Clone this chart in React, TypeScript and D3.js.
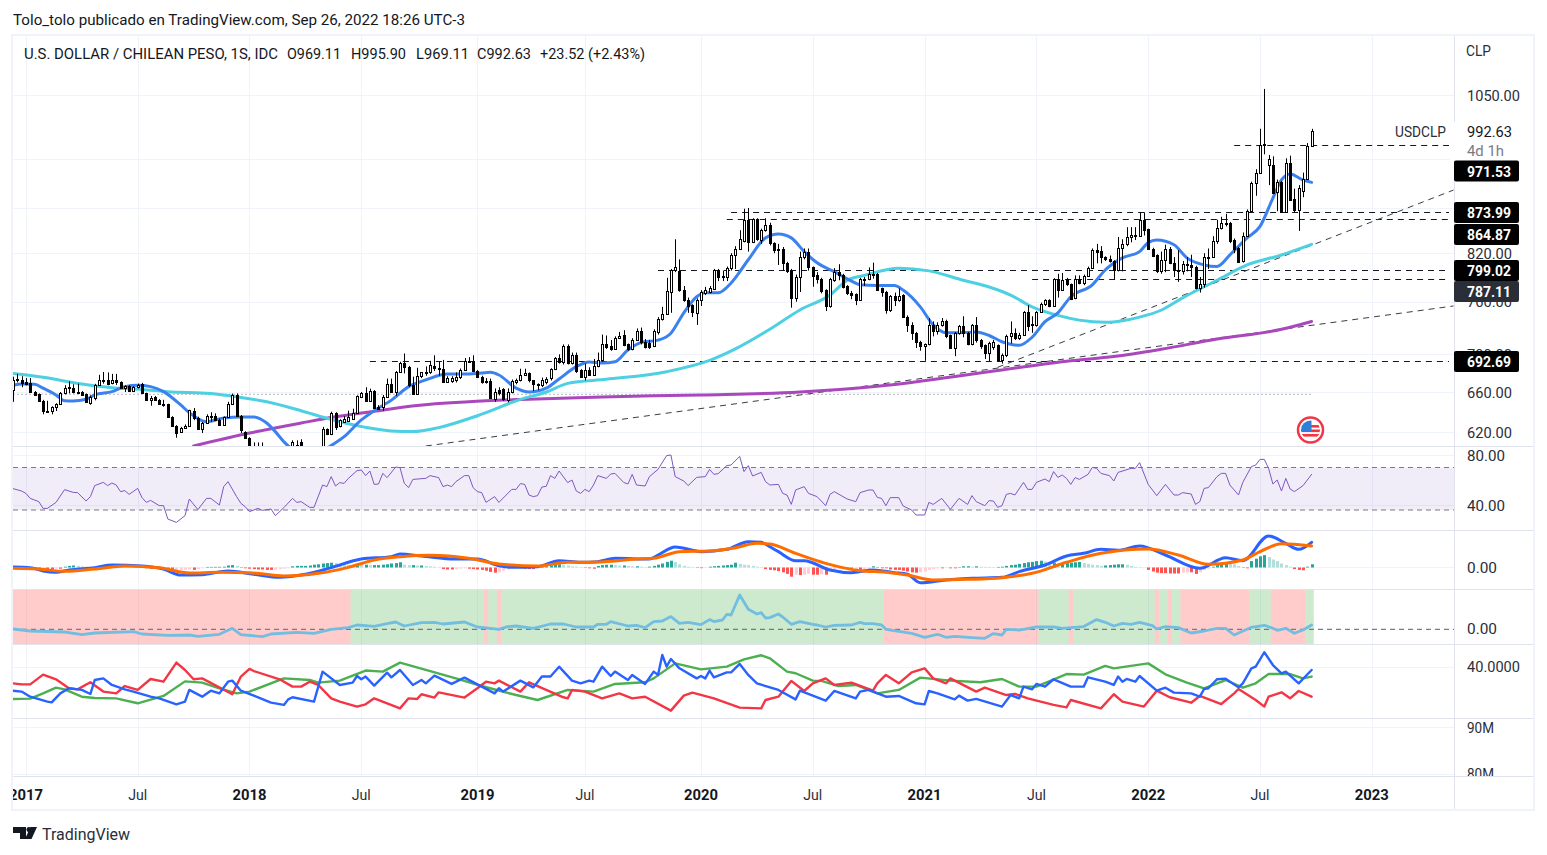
import { useEffect, useRef } from 'react'
import * as d3 from 'd3'

// weekly candles, one entry per week, week 0 is the last week of 2016
const opens = [
  662,674,672,670.4,669.5,660,657.6,651,641,640.7,645,648,658.6,664.7,663.7,660.2,660,657.6,648.5,654,
  667,672.5,672.8,669,672,670.4,664.3,666.4,661,665,668,658.6,652,654.6,652,648,647.5,635,626,620,
  624,626,640.7,634,623,629,636,636,631.6,626.6,634.6,648,657,636,620,614.5,606,603,602,600,
  598,597,596,597,598,600,608,610,603,601,600,598,600,623,618,638.5,626,630,631,633,
  639,655,658.6,651,661,645,645,655,668.5,660,681.5,690.5,686.5,667,657.5,676.5,680,680.5,687.5,685.5,
  684.5,670.5,671,672,675.5,683,692,692.5,682,675.5,671,671,652.5,662.5,663,652,660,670,672,678,
  679.5,672,668,667,670,675,684,696,692,709,691,699,682.6,675.5,682.6,678.3,687,693.4,712,709,
  706,718.6,721,711,705.5,716,725.6,713.6,713,709,725,740,746,772,798.4,797.5,774.6,762.5,755.7,747,
  762.5,771,772,775.5,798.4,790.8,790,801.3,817.4,826,836,863.6,834.4,864.5,837,850,857,832.6,825.3,826,
  807,797.6,764.6,790,815.4,821,802,792,787,773.8,755,786,796.4,792,778.6,771,769,762.5,786,788,
  793.4,793.4,776,771.7,750,766.5,761.7,767.7,742,733,724,713.6,709,711,733.4,726,733.4,738,721,707,
  723.6,731.8,723.4,712,732.4,716,710,701.5,708,710,693.4,698.8,720,724,718.6,722,748,733,733,748,
  757,761.7,755,787,774.6,787,781.5,764.6,787,782.5,791.6,801.7,824,823,814.6,812,810,798.4,827,831.4,
  840.4,843.4,842,863.6,851,826,817.6,797,811,826,808,798.5,797.5,806,805,802,776,782,815,815,
  835.8,852.4,860,860,837,827,809.6,842,876,915.7,930,971.7,941.7,941.6,902.7,917,875,943.7,892,877,
  903,921.5,969.11,
]
const closes = [
  672,672,669,668,660,657,651,640.7,640.5,645,648,658.6,664.3,663.7,660,660,657,650,654.6,667.7,
  672.5,672,668.7,672.5,670.4,664.3,666.4,661,665.4,667.7,658.6,652,654,652,647.5,647,635,626,619,624,
  626,641.4,633.3,623,629,636,635.6,631.6,626.6,634.6,648,657,636,621.5,614.5,606,603,602,600,598,
  597,596,597,598,600,610,602,603,601,600,598,600,623,618,638.5,625,632,633,634.5,639,
  655.5,658.6,651,661,644,643,655,668,660,681.5,690.5,686.5,667,657.5,676.5,680.5,680.5,688,685.5,684.5,
  670.5,674.5,674.5,675.5,683,692.7,693,682,675.5,670.5,670.5,654,660,659,652.5,660,671,672,678,680,
  672,668,667,673,674,684,695.7,692,709,691,699,682,675.5,682.6,678.3,687,693.4,711,708,706,
  718.6,720.3,710,705.5,716,725.6,713.6,708,708.5,725.6,740,746,773,798.4,802.6,774.6,761.7,754.5,748,762.5,
  771.7,774.6,776.7,798.4,790,790,801.3,817.4,826,838,863.6,835,864.5,838,850,857,832.6,824,825,807,
  797.6,765,790,815.4,821,802,791,787,773,754.5,787,796.4,792,778,770.6,767.7,761.7,787,788,793.4,
  793.7,774.6,771.7,750,766.5,762.5,767.3,742,732.5,724,713.6,709,711,733,726,733.4,738,720,707,723.6,
  731.8,723.4,712,732.4,715.5,709,701.5,712.5,713.6,693.4,699,720,724,718.6,722,748,732,733.5,748,757,
  761.7,755,787,774.6,786,781,763.6,787,782.5,791.6,801.7,824,822,814.6,812,810,798.4,827,831.4,840.4,
  843.4,842,863.6,850,826,817,797.6,811,826,808,798.5,797,806,805.5,802,776,782,814.7,814.7,835.8,
  852.4,859,858.8,836,825,809,842,876.5,915.7,930,971.8,972,950,901,917,875,943.7,891,877,908,
  921.5,969.5,992.63,
]
const highs = [
  676,679,676.5,674.5,674.5,661,658.5,652,651,645.5,648.5,660,667,671,668,668.7,661,658.5,656.5,668.5,
  678,681,680.5,679,679,671,667,667,666,668.7,669.5,659.3,656,656,652.7,652,648,635.5,626.7,625,
  627.4,642,643.7,635,629.7,637.4,639.4,638.4,633.3,635.3,650,658.4,658.6,636.7,620.7,615,610,610,610,604,
  602,602,601,604,605,612,612,613,606,604,604,604,625,623.5,640,639.5,632.5,635.5,641,643,
  656.5,660,665,663.5,662,646.6,657,674,674,682,692,701,687.5,676,685.5,681,687,693,699,692,
  694,676.5,676.5,680.5,684.7,696,697,699,683,677,674.5,674,663.7,665,664,663.7,673,674,684.5,684.5,
  680.5,672.5,669,675,675.5,685,697,700,711,711,702,702,684,690,686,695,702,722,721,716,
  720,725,727,712,718,729,730,717,716,728,742,754,789,800,838,812,779,765,757,764,
  774,778,779,800,800,798,803,820,829,850,879,880,866,866,852,866,860,834,832,828,
  809,800,793,822,826,826,803,796,789,775,789,801,806,794,780,773,770,789,790,802,
  808,795,777,773,768,771,776,769,744,736,725,715,712,741,737,736,741,739,722,725,
  733,743,725,734,742,717,711,714,716,711,701,722,737,729,724,749,756,743,749,759,
  763,763,788.5,794,795,789,782,792,792,793,803,826,832,829,816,817,811,841,838,854,
  854,854,874,874,852,827,818.5,822,831,828,815,824,810,815,818,804,790,820,826,842,
  864,868,872,861,839,828,847,878,917,935,996,1060,956,954,920,918,951,955,907,912,
  930,974,995.9,
]
const lows = [
  650,670,665,667,659.6,656,650,637.4,639,637.4,640.7,647.5,657.6,658.6,658.6,659.6,656,649.5,647,651.5,
  666.4,668.7,667,668,667.4,663.7,660,660.4,660.6,663.7,658,651.4,646,651.4,647,645,634.6,625,614.5,619,
  623.4,625.4,631.6,622.4,619,628,630,630.6,626,626,634,647.5,635.4,619,613.8,604,600,599,597,595,
  594,593,592,594,595,598,600,600,598,597,596,595,598,617,617,622,624.5,629,630,632,
  638,654.5,650,650,643.5,642.5,641,654.5,659,656,680.5,679.5,665,657,657,674.5,677,679,682,677,
  669.5,669.5,669.5,670,673.5,682,691,681.5,674.5,668.7,668.7,653.4,650,656.5,651,649.5,658.6,668,671,677,
  670,661,662,665,668,672,683,690,689,689,689,680,675,672,677,677,686,692,706,704,
  705,717,709,704,704.5,715,711,706.5,706,708,722,738,745,747,796,772,760,747,742,733,
  755,768,770,774,785,785,785,798,800,824,834,822,833,836,832,848,830,820,805,798,
  795,753,760,771.7,812,798,778,782,770,749,753,784,786,776,768,763,756,761,779,786,
  788,773,766,746,748,755,760,741,725,716,707,704,693,710,720,722,731,718,706,698,
  722,719,710,710,713,706,695,692,705,692,690,697,712,716,716,721,726,724,731,747,
  755,753.5,754,765,773,779,762,763,781,780,790,800,807,807,810,808,787,797,797,829,
  834,837,841,843,825,815,795,794,796,806,790,784,793,797,790,775,771,777,800,814,
  832,851,855,833,820,808,808,841,874,897,928,957,912,900,875.6,874,874,890,874,849,
  895,920,969.11,
]

// moving averages, read at turning points
const blueWeeks = [0,2,5,7,10,12,14,17,19,23,26,29,32,35,39,41,45,49,53,56,59,61,63,64,67,70,74,77,81,84,88,92,96,101,105,109,111,113,117,120,124,127,131,134,137,140,143,146,150,153,156,159,161,164,167,171,175,178,181,184,187,191,195,197,201,205,207,211,214,217,220,224,227,230,234,237,240,243,246,251,254,258,262,264,266,270,273,277,280,283,287,290,293,295,297,300,302]
const blueValues = [667,668.3,668,664,657,651,650.8,652.6,657,660.4,665.6,667,665.6,660.4,646.8,639,630,633.8,634.8,634.8,628.8,620.4,610.7,606.6,601,598,607,615.5,631.8,641,651.7,665.6,672.6,678.8,678.8,680,680.6,677.8,664,660,664,673.6,686.7,691.8,690.7,692,704.9,713,715.8,723.6,747,766,770.8,770.8,782.7,811.6,839.8,845,839.8,822,807.7,796.6,785,780.4,779.5,779.5,774,754,733,724,724,725,721,714,710,719,736.7,747,766,780.4,798.7,814,822,833.6,837,830.8,814,805,803,817.7,839.8,855,893.8,919.4,928,919.4,916]
const cyanWeeks = [0,7,16,23,30,36,46,53,59,67,73,82,88,93,99,108,118,124,129,138,152,162,168,176,183,190,194,198,206,213,221,227,232,237,243,248,254,258,262,267,272,280,287,295,302]
const cyanValues = [679.3,675.4,668.3,664.4,662.6,660.4,658.6,654.4,650,641,633.5,624.5,621,620.4,624.3,636,652.4,660,669,673.3,681.3,693.4,706,728,750.3,768,786,792,801,797.6,786,777.7,768,754,744,738.5,736,737.8,742,750,764.6,786,805,817.7,831.4]
const purpleWeeks = [42,55,67,75,85,94,106,118,137,160,183,201,229,246,256,267,280,295,302]
const purpleValues = [606.6,619,628.8,635,641,646.3,650,652.4,655,657,660,666,682.6,693,697.6,705.6,717,728,737]

// drawn levels: price, first week, label centre on the axis
const levelPrices = [971.53, 873.99, 864.87, 799.02, 787.11, 692.69]
const levelStarts = [284, 167, 166, 150, 237, 83]
const levelLabelY = [171, 212.5, 234.5, 270.5, 291.5, 361.5]
const levelLabelFill = ['#000', '#000', '#000', '#000', '#2a2e39', '#000']
const trendWeeks = [[96, 335], [229, 335]]
const trendPrices = [[606.6, 755], [686, 905]]
const priceTicks = [1050, 950, 880, 820, 760, 700, 660, 620]
const priceTickLabels = [1050, 820, 760, 700, 660, 620]

const tickWeeks = [3, 29, 55, 81, 108, 133, 160, 186, 212, 238, 264, 290, 316]
const tickLabels = ['2017', 'Jul', '2018', 'Jul', '2019', 'Jul', '2020', 'Jul', '2021', 'Jul', '2022', 'Jul', '2023']

const rsiWeeks = [0,2,3,4,6,7,8,10,12,14,15,17,18,19,21,22,23,24,25,26,27,29,30,31,32,34,35,36,38,40,41,43,45,46,48,49,50,52,53,54,55,57,58,60,61,63,65,66,67,69,70,72,73,74,75,76,77,78,80,81,82,83,84,85,86,87,89,90,91,92,93,96,97,99,100,101,102,103,105,106,107,108,109,110,112,113,116,117,118,119,120,121,122,123,124,125,126,127,129,130,131,132,133,134,135,136,138,139,140,142,143,144,145,147,148,150,152,153,154,156,157,159,161,162,163,164,166,167,169,170,171,172,174,175,176,178,179,180,181,182,184,185,187,189,190,191,194,196,197,199,200,201,202,203,204,206,207,209,210,212,213,214,216,218,220,222,223,224,226,227,228,229,230,231,232,233,235,236,237,238,240,241,242,243,244,245,246,247,248,250,251,252,253,255,256,257,260,261,262,264,266,268,270,271,272,274,275,276,277,278,280,281,282,283,285,286,288,289,290,291,292,293,294,295,296,297,298,300,301,302]
const rsiValues = [53.1,51.2,49.3,45.3,42.7,37.3,37.3,42.1,52.3,50.1,49.9,43.2,46.7,55.5,58.1,55.5,57.6,56,50.7,51.5,48.5,53.3,45.9,42.1,43.7,39.5,39.5,28.8,26.1,31.5,44.8,36.3,45.3,45.3,40,54.7,58.7,46.7,41.3,38.7,34.7,37.3,35.7,36.8,31.5,37.9,45.3,42.1,42.7,38.1,38.1,56,54.7,62.7,55.2,57.9,57.3,61.3,67.5,68,63.5,67.2,56.5,56.8,65.3,61.9,70.4,69.9,57.3,53.9,60.5,61.3,63.5,61.9,54.7,56,54.7,58.7,63.5,63.5,53.9,50.7,49.9,42.1,46.7,42.1,52.5,52.5,57.1,56.5,48,46.7,47.5,54.4,54.9,63.5,61.3,67.2,57.9,60,51.2,49.3,52.5,50.7,56,63.5,61.3,64.8,65.3,58.1,56.8,64.5,56,55.2,62.7,68.5,79.5,80,62.7,59.2,55.5,62.1,62.7,68.5,64.5,65.1,71.5,72,78.9,66.7,71.5,63.2,66.1,58.7,56,56.5,49.3,48,40.5,52,54.7,49.3,46.7,39.5,48.5,50.7,44.8,42.7,49.9,52,52,46.1,45.3,39.5,45.9,45.9,39.2,36,32,32,42.1,40.5,45.3,36.5,45.3,40.5,47.5,42.7,39.5,43.5,43.2,38.1,39.5,48.5,49.3,48,58.1,52.5,52.5,58.1,60.8,58.7,66.7,62.1,64,61.3,56.5,61.9,60.5,64.5,70.1,69.3,65.3,63.5,59.2,66.1,69.3,69.3,73.9,56.5,47.5,56.5,48,48,49.9,48.8,40.5,42.7,53.3,53.9,62.7,65.3,65.3,56,48,58.1,70.7,72,76.5,76.5,69.3,56.8,60,51.2,61.3,52.8,50.7,55.5,60,64.5]
const rsiBand = [70, 36]

const macdWeeks = [0,4,7,10,13,19,23,30,35,39,44,50,56,62,68,74,81,88,90,95,103,108,113,116,122,127,132,136,140,148,150,154,156,160,166,171,174,176,178,182,184,190,195,200,205,208,211,217,223,230,234,240,245,249,253,257,262,268,276,282,286,292,296,299,302]
const macdValues = [.6,-.2,-4.4,-6,-3.1,-.2,3.1,1.9,-1.9,-9.4,-9,-4.4,-8.5,-12.3,-8.5,-.2,10.6,13.5,16.9,14.4,10.6,10.6,2.3,.2,1,8.5,6.5,7.3,11.5,10.6,15.6,25.6,24,19.8,22.7,32.3,31.5,26,19.8,8.5,8.5,-3.1,-6.5,-3.1,-6.5,-8.5,-19,-15.6,-13.5,-12.3,-5.2,3.1,14.4,17.7,22.7,21.5,26.9,15.6,-1,12.3,8.5,39.4,30.2,22.7,31.5]
const signalWeeks = [0,6,12,19,26,34,41,48,55,63,71,78,84,90,97,106,113,122,129,136,145,149,155,162,168,173,176,182,189,197,203,208,214,222,230,237,245,253,264,271,278,286,290,295,302]
const signalValues = [-1,-1.9,-4.8,-1.9,1.9,-.2,-6.9,-6,-6.5,-10.6,-7.3,.2,9.4,13.5,15.2,11.5,4.4,1.9,6.5,6.9,10.6,11.5,19.8,20.6,24.8,30.2,29.4,17.7,5.2,-4,-6,-9.4,-15.6,-14.8,-12.7,-7.3,6.5,17.7,23.1,15.6,4,9.4,19.8,29.8,26.9]
const histValues = [
  .3,.3,.3,.2,-1.5,-2,-2.5,-2,-2,-2,-1.5,-1.5,1,2,2.5,2,1.5,1,.7,.5,
  2,2.5,3,2.5,2,1.5,1.2,1,.7,.5,-.5,-1,-1.5,-1.5,-2,-3,-3.5,-3.5,-3.2,-3,
  -2.8,-2.5,-3,-2,-1,.7,.7,.8,.8,1,2.5,3,2,-.5,-1,-1.5,-2,-2.5,-2.5,-3,
  -3,-2.5,-2,-1.5,-1,1.5,2,2,2,2.5,3.5,4,5,5.5,6,5.5,5,4,3.5,3,
  4,3.5,3.5,3,3,3,3.5,4,5,5.5,6.5,3.5,3,3,2.5,2.5,2,1.5,1,.5,
  -2,-2.5,-2.5,-2,-1.5,-1,-1.5,-2,-2.5,-3,-4,-5.5,-6.5,-6,-4,-2.5,-1,-.5,.3,-1.5,
  -2,-2,-1,1,1.5,2.5,3.5,4,3,2.5,1.5,1,.5,-.5,-1,-1.5,2,3,3.5,3.5,
  3,2.5,2.5,2,1.5,1.5,1,.5,1,2,3.5,5,7,8.5,7,4,2,1,.5,-.5,
  -.8,-.5,1,1.5,2,2.5,3,3.5,6,4.5,3.5,3,2,1,.5,-2,-3,-3.5,-4.5,-6,
  -8,-11.5,-9,-9.5,-9,-8,-9,-9,-8.5,-9,-5,-2,-1.5,-1,-2,-2.5,-2,-3,-2.5,-1.5,
  1.5,-.5,-1,-1,-2.5,-3,-3,-4,-5,-6,-6.5,-6,-5,-3,-2,-1,-1,-.3,-1,-1,
  .5,1.5,1.5,1,1.5,1,.8,.7,.5,.7,1,2,3,3.5,4.5,5.5,6.5,7,8,8.5,
  7.5,6,6,5,5,5.5,6,6.5,7,5.5,4.5,3.5,3,2,2.5,3,3.5,4,4,3.5,
  2,1,.5,.3,-3,-5,-6.5,-7,-7,-7.5,-7.5,-7.5,-6.5,-6,-6,-8,-6,-3,-1.5,1,
  3,5,6,5.5,4,2,-.5,-1,8,11,14,15.5,13,10,8,5,3,1,-2,-3,
  -3.5,1,4,
]

// background regime of the third pane, as week ranges
const bearRanges = [[0,78],[110,110],[113,113],[203,238],[246,246],[266,266],[269,269],[272,287],[293,300]]
const bullRanges = [[79,109],[111,112],[114,202],[239,245],[247,265],[267,268],[270,271],[288,292],[301,302]]
const oscWeeks = [0,4,12,16,19,28,30,36,41,43,48,51,53,58,60,66,70,74,78,80,84,87,89,91,95,98,100,105,108,111,113,115,117,121,125,128,131,135,136,138,139,143,145,147,149,151,153,155,157,160,162,163,165,166,167,169,171,173,174,175,176,178,179,181,183,186,187,189,191,195,197,198,200,202,203,206,209,212,215,217,219,223,226,228,230,231,234,235,238,242,244,246,249,252,254,256,258,260,262,265,266,268,271,274,277,280,282,284,288,291,293,294,296,298,300,302]
const oscValues = [.3,-1.7,-2.7,-5.3,-3.7,-2.3,-4.7,-6,-5.7,-7,-5,1,-5.3,-7.3,-4.7,-3,-4,0,1.7,4.3,3,5.7,7.3,3.3,6.7,7,5.3,7.3,2.3,1,0,2.7,3.3,1,5.3,5.3,2.3,2.3,5,5,7.7,3.3,4,1.7,7.7,8.3,12.7,6,7,4.7,9.7,7.7,9.3,15,14.3,34.3,20,15.3,16.7,11.3,11.7,15.3,12.3,5,7.7,5,4.3,2.3,4,4.3,7,5.7,5.7,4.3,0,-2,-4,-8,-5,-8,-7,-8.3,-9,-4.3,-5.7,0,-.7,0,2.3,2.3,1,1.7,2.7,9.7,7,3.3,6,5,7,3.7,.3,2.7,1.7,-3.7,-1.7,1,1,-5.7,2,4,1,-1,1,-4,-.7,4.3]

const dmiBlueWeeks = [0,2,4,8,9,11,13,16,18,19,21,23,26,28,32,34,38,40,41,44,46,48,50,51,53,56,60,63,64,65,70,72,76,79,80,81,82,84,87,88,90,93,95,96,98,102,105,108,112,113,114,118,121,123,125,127,130,132,134,135,137,139,140,143,144,147,149,150,151,152,153,155,159,160,161,162,163,166,167,169,171,173,178,182,183,189,191,196,197,199,203,206,210,212,213,215,219,220,222,224,230,232,234,235,237,238,240,242,246,249,250,254,256,257,258,259,261,262,266,268,270,274,276,277,278,280,282,285,286,288,289,291,293,295,296,299,302]
const dmiBlue = [24,23.4,20,16.7,16.2,22.2,25.6,24.5,21.8,31.1,32.2,27.8,24.9,23.4,20,18.9,14.9,16.7,24.5,20,24,22.2,30,30.7,24,20.7,16,14.5,18.2,19.6,16.7,36.7,27.8,29.4,33.8,31.6,33.4,27.4,36,32.9,37.8,27.8,31.1,28.9,34,28.5,32.7,28.2,22.2,25.6,23.4,30.7,26.2,33.4,33.4,40,30.7,28.9,30.7,30,40,33.8,36.7,31.1,34.5,28.5,36.7,34.5,47.8,40,45.1,38.9,32.2,33.8,32.2,37.4,32.9,36.2,36.2,41.8,34.5,28.9,24.5,18.2,24,17.4,23.8,18.9,23.4,24.5,20,20.5,15.6,14.9,23.8,22.2,18.2,20.7,17.4,18.5,13.4,21.1,18.9,26.7,24.9,28.5,26.7,31.6,26.7,26.7,32.9,30,27.8,33.4,30,31.8,30,33.8,24,26,22.7,22.2,20,25.1,25.6,31.6,32,26.2,28.9,38.9,40,49.6,41.1,35.6,36.7,28.9,37.8]
const dmiGreenWeeks = [0,4,7,10,12,16,19,24,29,35,40,44,48,52,55,63,69,71,76,82,86,90,96,103,109,117,122,129,135,140,147,149,154,160,166,170,174,176,180,182,186,188,192,196,201,206,211,218,225,230,234,238,245,249,254,256,264,268,273,277,282,286,289,292,297,300,302]
const dmiGreen = [18.5,18.7,22.2,26,24.9,20,19.1,18.9,15.6,20.5,30.2,29.4,25.6,22.2,23.4,32.2,31.1,29.4,30.7,37.4,36.7,42.7,37.8,32.2,27.1,21.1,17.8,24.5,23.4,28.5,29.6,32.2,42.2,38.2,40,44.9,47.6,45.6,36.7,35.6,30.7,30.5,27.1,27.8,22.2,24.5,32.7,30.7,29.6,31.8,26.7,26.7,35.1,34.7,40.5,38.9,42.2,34.9,29.4,25.6,31.1,26,28.9,35.1,35.1,32.2,33.4]
const dmiRedWeeks = [0,2,4,7,10,13,15,18,21,24,26,29,32,35,38,40,42,44,51,53,55,56,62,65,67,69,71,74,76,80,82,84,90,92,94,95,98,99,105,108,110,112,113,118,120,128,129,130,133,137,141,144,147,153,156,158,163,169,174,175,178,179,181,184,186,189,191,195,200,201,203,206,209,212,214,217,218,224,226,231,233,236,242,245,246,253,256,258,263,266,269,274,276,281,284,285,289,291,292,295,297,299,302]
const dmiRed = [28.9,28.2,28.2,34.7,31.6,25.6,24.9,29.6,23.4,22.2,27.1,24.5,31.8,30,42.7,37.8,31.6,32.2,21.6,33.4,38.5,37.1,31.6,26.7,26.7,30,27.8,18.9,16.7,13.4,14.9,18.9,12.2,18.9,18.5,21.6,19.4,22.9,19.4,25.6,30,28.9,30.7,23.4,29.6,19.6,18.9,24.5,23.4,18.9,22.2,18.9,20,10.7,20.7,22.7,18.9,12.7,12.2,17.8,20,23.4,30.5,23.8,28.9,32.2,27.8,29.4,24,28.9,34.5,28.9,36.2,38.9,32.2,28.9,32.2,23.4,26,21.1,21.8,18.9,14.5,12.9,17.8,12.2,21.6,16.7,13.4,24,19.6,16,20.5,15.1,22.2,25.1,17.8,13.4,20,22.9,18.9,23.8,20]

const W = 1547
const H = 855
const LEFT = 13
const AXIS = 1454
const RIGHT = 1533
const paneEdges = [36, 446, 530, 589, 644, 718, 776, 810]

export default function App() {
  const svgRef = useRef<SVGSVGElement>(null)

  useEffect(() => {
    if (!svgRef.current) return
    const svg = d3.select(svgRef.current)
    svg.selectAll('*').remove()
    const font = "'Roboto', 'Liberation Sans', sans-serif"
    const grid = '#f0f3fa'
    const sep = '#e0e3eb'
    const ink = '#2a2e39'
    const size = 15

    const x = d3.scaleLinear().domain([0, 302]).range([LEFT, 1311.6])
    const yPrice = d3.scaleLog().domain([1050, 606.6]).range([95, 446])
    const yRsi = d3.scaleLinear().domain([80, 40]).range([455, 505])
    const yMacd = d3.scaleLinear().domain([46.9, -26.9]).range([530, 589])
    const yOsc = d3.scaleLinear().domain([40.3, -14.7]).range([589, 644])
    const yDmi = d3.scaleLinear().domain([55.1, 5.8]).range([644, 718])
    const yVol = d3.scaleLinear().domain([90, 80]).range([727.3, 773.5])

    const defs = svg.append('defs')
    defs.append('clipPath').attr('id', 'main-clip').append('rect')
      .attr('x', LEFT).attr('y', paneEdges[0]).attr('width', AXIS - LEFT).attr('height', paneEdges[1] - paneEdges[0])
    defs.append('clipPath').attr('id', 'axis-clip').append('rect')
      .attr('x', LEFT).attr('y', 777).attr('width', AXIS - LEFT).attr('height', 33)
    defs.append('clipPath').attr('id', 'vol-clip').append('rect')
      .attr('x', AXIS).attr('y', 718).attr('width', 80).attr('height', 58)
    defs.append('clipPath').attr('id', 'flag-clip').append('circle').attr('cx', 1310.5).attr('cy', 430).attr('r', 9.5)

    const text = (
      parent: d3.Selection<any, unknown, null, undefined>,
      tx: number, ty: number, s: string, fill = ink, weight = 400, len?: number, fs = size
    ) => {
      const t = parent.append('text')
        .attr('x', tx).attr('y', ty + .6).attr('dominant-baseline', 'central')
        .attr('font-family', font).attr('font-size', fs).attr('font-weight', weight)
        .attr('fill', fill).text(s)
      if (len) t.attr('textLength', len).attr('lengthAdjust', 'spacingAndGlyphs')
      return t
    }
    const hLine = (y: number, x1 = LEFT, x2 = AXIS, color = grid) =>
      svg.append('line').attr('x1', x1).attr('x2', x2)
        .attr('y1', Math.round(y) + .5).attr('y2', Math.round(y) + .5)
        .attr('stroke', color)

    // grid
    tickWeeks.forEach(w => {
      const gx = Math.round(x(w)) + .5
      if (gx < LEFT) return
      svg.append('line').attr('x1', gx).attr('x2', gx).attr('y1', 36).attr('y2', 776).attr('stroke', grid)
    })
    priceTicks.forEach(p => hLine(yPrice(p)))
    ;[80, 40].forEach(v => hLine(yRsi(v)))
    hLine(yMacd(0))
    hLine(yDmi(40))
    ;[90, 80].forEach(v => hLine(yVol(v)))

    const main = svg.append('g').attr('clip-path', 'url(#main-clip)')

    // faint dotted level and drawn levels
    main.append('line')
      .attr('x1', LEFT).attr('x2', x(302))
      .attr('y1', yPrice(657.7)).attr('y2', yPrice(657.7))
      .attr('stroke', '#b2b5be').attr('stroke-dasharray', '2 2')

    levelPrices.forEach((p, i) => {
      const ly = Math.round(yPrice(p)) + .5
      main.append('line')
        .attr('x1', x(levelStarts[i])).attr('x2', 1449)
        .attr('y1', ly).attr('y2', ly)
        .attr('stroke', '#131722').attr('stroke-dasharray', '6 5')
    })
    trendWeeks.forEach((w, i) => {
      main.append('line')
        .attr('x1', x(w[0])).attr('x2', x(w[1]))
        .attr('y1', yPrice(trendPrices[i][0])).attr('y2', yPrice(trendPrices[i][1]))
        .attr('stroke', '#3a3d46').attr('stroke-dasharray', '6 5')
    })

    const drawLine = (
      parent: d3.Selection<any, unknown, null, undefined>,
      weeks: number[], values: number[], y: (v: number) => number,
      color: string, width: number, curve: d3.CurveFactory = d3.curveLinear
    ) => {
      const path = d3.line<number>()
        .x((_, i) => x(weeks[i]))
        .y(v => y(v))
        .curve(curve)
      parent.append('path').attr('d', path(values))
        .attr('fill', 'none').attr('stroke', color).attr('stroke-width', width)
        .attr('stroke-linejoin', 'round').attr('stroke-linecap', 'round')
    }

    drawLine(main, purpleWeeks, purpleValues, yPrice, '#ab47bc', 3, d3.curveMonotoneX)
    drawLine(main, cyanWeeks, cyanValues, yPrice, '#4dd0e1', 3, d3.curveMonotoneX)
    drawLine(main, blueWeeks, blueValues, yPrice, '#3b82f0', 3, d3.curveMonotoneX)

    // candles
    opens.forEach((o, i) => {
      const cx = Math.round(x(i))
      const c = closes[i]
      const up = c >= o
      main.append('line')
        .attr('x1', cx + .5).attr('x2', cx + .5)
        .attr('y1', yPrice(highs[i])).attr('y2', yPrice(lows[i]))
        .attr('stroke', '#000')
      const top = Math.round(yPrice(Math.max(o, c)))
      const bottom = Math.round(yPrice(Math.min(o, c)))
      main.append('rect')
        .attr('x', cx - .5).attr('y', top + .5)
        .attr('width', 2).attr('height', Math.max(bottom - top, 1))
        .attr('fill', up ? '#fff' : '#000').attr('stroke', '#000')
    })

    // RSI
    svg.append('rect')
      .attr('x', LEFT).attr('width', AXIS - LEFT)
      .attr('y', yRsi(rsiBand[0])).attr('height', yRsi(rsiBand[1]) - yRsi(rsiBand[0]))
      .attr('fill', 'rgba(126,87,194,0.11)')
    rsiBand.forEach(v => {
      svg.append('line').attr('x1', LEFT).attr('x2', AXIS)
        .attr('y1', yRsi(v)).attr('y2', yRsi(v))
        .attr('stroke', '#787b86').attr('stroke-width', 1.2).attr('stroke-dasharray', '5 4')
    })
    drawLine(svg as any, rsiWeeks, rsiValues, yRsi, '#7e57c2', 1)

    // MACD
    histValues.forEach((v, i) => {
      const prev = i ? histValues[i - 1] : 0
      const color = v >= 0
        ? (v >= prev ? '#26a69a' : '#b2dfdb')
        : (v <= prev ? '#ff5252' : '#ffcdd2')
      svg.append('rect')
        .attr('x', Math.round(x(i)) - 1).attr('width', 3)
        .attr('y', Math.min(yMacd(0), yMacd(v)))
        .attr('height', Math.abs(yMacd(v) - yMacd(0)))
        .attr('fill', color)
    })
    drawLine(svg as any, macdWeeks, macdValues, yMacd, '#2962ff', 3, d3.curveMonotoneX)
    drawLine(svg as any, signalWeeks, signalValues, yMacd, '#ff6d00', 3, d3.curveMonotoneX)

    // regime background with oscillator
    const band = (ranges: number[][], color: string) => ranges.forEach(([a, b]) => {
      const x0 = Math.max(x(a) - 2.15, LEFT)
      svg.append('rect')
        .attr('x', x0).attr('width', x(b) + 2.15 - x0)
        .attr('y', 589.5).attr('height', 54.5)
        .attr('fill', color)
    })
    band(bearRanges, 'rgba(255,82,82,0.3)')
    band(bullRanges, 'rgba(76,175,80,0.28)')
    svg.append('line').attr('x1', LEFT).attr('x2', AXIS)
      .attr('y1', yOsc(0)).attr('y2', yOsc(0))
      .attr('stroke', '#787b86').attr('stroke-width', 1.2).attr('stroke-dasharray', '5 4')
    drawLine(svg as any, oscWeeks, oscValues, yOsc, '#72bee0', 2.8)

    // DMI
    drawLine(svg as any, dmiGreenWeeks, dmiGreen, yDmi, '#4caf50', 2.4)
    drawLine(svg as any, dmiRedWeeks, dmiRed, yDmi, '#f23645', 2.4)
    drawLine(svg as any, dmiBlueWeeks, dmiBlue, yDmi, '#2962ff', 2.4)

    // pane borders
    paneEdges.slice(1, 7).forEach(e => hLine(e, LEFT, RIGHT, sep))
    svg.append('line').attr('x1', AXIS + .5).attr('x2', AXIS + .5).attr('y1', 36).attr('y2', 810).attr('stroke', sep)
    svg.append('rect').attr('x', 12).attr('y', 35).attr('width', 1522).attr('height', 775)
      .attr('fill', 'none').attr('stroke', grid).attr('stroke-width', 2)

    // right axis labels
    const labelX = 1467
    priceTickLabels.forEach(p => text(svg as any, labelX, yPrice(p), p.toFixed(2), ink, 400, p >= 1000 ? 53 : 45))
    ;[80, 40].forEach(v => text(svg as any, labelX, yRsi(v), v.toFixed(2), ink, 400, 38))
    text(svg as any, labelX, yMacd(0), '0.00', ink, 400, 30)
    text(svg as any, labelX, yOsc(0) - 1, '0.00', ink, 400, 30)
    text(svg as any, labelX, yDmi(40), '40.0000', ink, 400, 53)
    const vol = svg.append('g').attr('clip-path', 'url(#vol-clip)')
    ;[90, 80].forEach(v => text(vol, labelX, yVol(v), `${v}M`, ink, 400, 27))
    text(svg as any, 1466, 50, 'CLP', ink, 400, 25)

    svg.append('rect').attr('x', 1390).attr('y', 122).attr('width', 130).attr('height', 18).attr('fill', '#fff')
    text(svg as any, 1395, 131, 'USDCLP', ink, 400, 51)
    text(svg as any, labelX, 131, '992.63', '#131722', 400, 45)
    svg.append('rect').attr('x', 1450).attr('y', 140).attr('width', 70).attr('height', 20).attr('fill', '#fff')
    text(svg as any, labelX, 150, '4d 1h', '#787b86', 400, 37)

    levelPrices.forEach((p, i) => {
      svg.append('rect')
        .attr('x', AXIS).attr('y', levelLabelY[i] - 10.5)
        .attr('width', 65).attr('height', 21).attr('rx', 2)
        .attr('fill', levelLabelFill[i])
      text(svg as any, labelX, levelLabelY[i], p.toFixed(2), '#fff', 700, 44)
    })

    // time axis
    const axis = svg.append('g').attr('clip-path', 'url(#axis-clip)')
    tickWeeks.forEach((w, i) => {
      const year = tickLabels[i] !== 'Jul'
      text(axis, x(w), 794, tickLabels[i], year ? '#131722' : ink, year ? 700 : 400, year ? 34 : 19)
        .attr('text-anchor', 'middle')
    })

    // legend and header
    text(svg as any, 13, 19, 'Tolo_tolo publicado en TradingView.com, Sep 26, 2022 18:26 UTC-3', '#131722', 400, 452)
    text(svg as any, 24, 53, 'U.S. DOLLAR / CHILEAN PESO, 1S, IDC', '#131722', 400, 254)
    text(svg as any, 287, 53, 'O969.11', '#131722', 400, 54)
    text(svg as any, 351, 53, 'H995.90', '#131722', 400, 55)
    text(svg as any, 416, 53, 'L969.11', '#131722', 400, 53)
    text(svg as any, 477, 53, 'C992.63', '#131722', 400, 54)
    text(svg as any, 540, 53, '+23.52 (+2.43%)', '#131722', 400, 105)

    // flag badge
    svg.append('circle').attr('cx', 1310.5).attr('cy', 430).attr('r', 12.5)
      .attr('fill', '#fff').attr('stroke', '#f23645').attr('stroke-width', 2.5)
    const flag = svg.append('g').attr('clip-path', 'url(#flag-clip)')
    ;[425, 429.5, 434].forEach(fy => {
      flag.append('rect').attr('x', 1300).attr('y', fy).attr('width', 22).attr('height', 2.6).attr('fill', '#f23645')
    })
    flag.append('rect').attr('x', 1300).attr('y', 420).attr('width', 11.5).attr('height', 11).attr('fill', '#2f7fd8')

    // footer logo
    const logo = svg.append('g').attr('fill', '#131722')
    logo.append('path').attr('d', 'M13 827h13v12h-6v-6h-7z')
    logo.append('circle').attr('cx', 29).attr('cy', 829.5).attr('r', 2.5)
    logo.append('path').attr('d', 'M37 827l-5.5 12h-6.5l5.5-12z')
    text(svg as any, 42, 833.5, 'TradingView', ink, 400, 88, 16)
  }, [])

  return (
    <svg
      ref={svgRef}
      width={W}
      height={H}
      style={{ position: 'absolute', left: 0, top: 0, background: '#fff', display: 'block' }}
    />
  )
}
